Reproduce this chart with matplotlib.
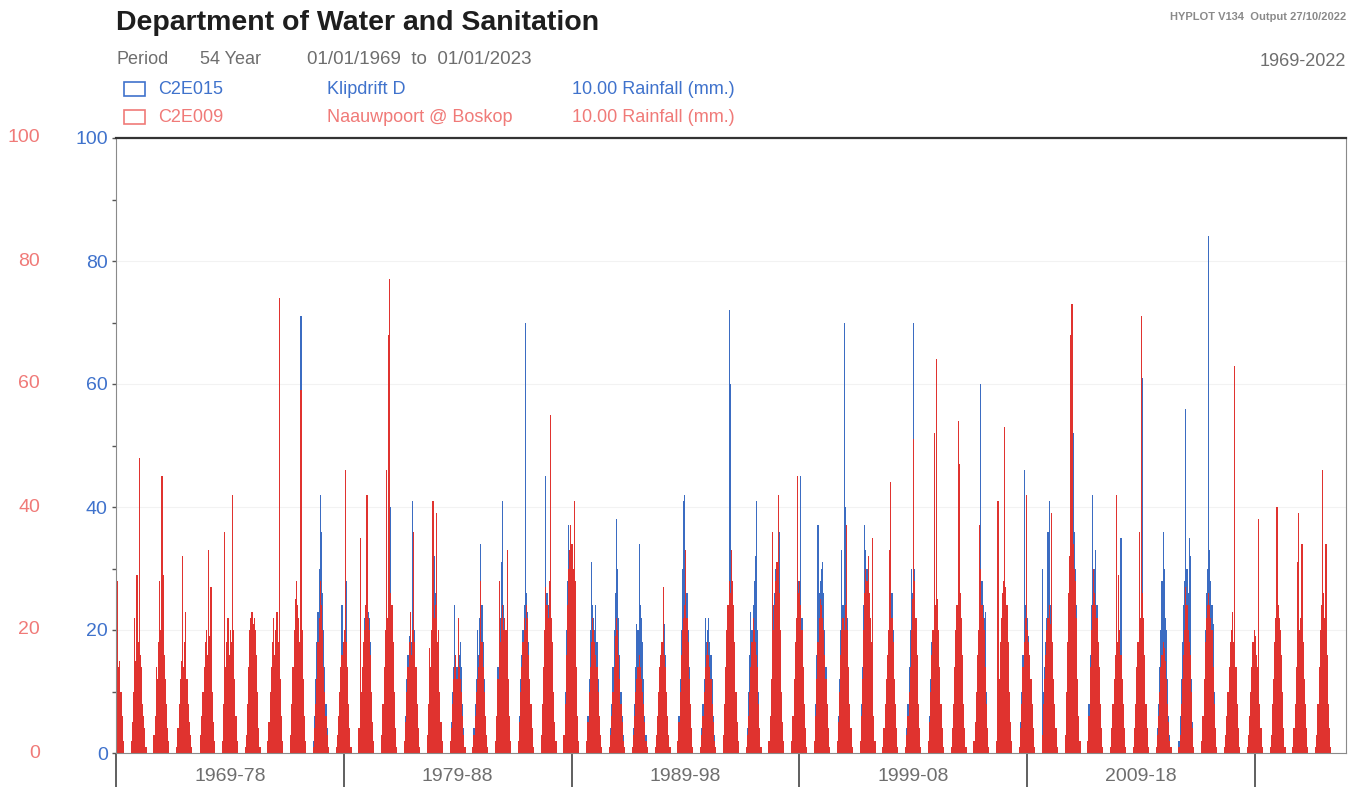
import numpy as np
import matplotlib
matplotlib.use("Agg")
import matplotlib.pyplot as plt
import matplotlib.patches
import matplotlib.transforms as mtransforms

plt.rcParams['font.family'] = ['Liberation Sans', 'DejaVu Sans']

# daily rainfall, one list per rain season (Sep..Apr),
# roughly half-monthly peaks, first list is the 1968/69 season
first_season = 1968
slot_offset = 0.67   # early September
slot_step = 0.05     # about half a month

red_c2e009 = [
    [0, 0, 0, 0, 0, 0, 0, 12, 28, 14, 15, 10, 6, 2],
    [2, 5, 10, 22, 15, 29, 18, 48, 16, 14, 8, 6, 4, 1],
    [3, 6, 14, 12, 18, 28, 20, 45, 29, 16, 12, 8, 4, 2],
    [1, 4, 8, 12, 15, 32, 14, 18, 23, 12, 8, 5, 3, 1],
    [0, 3, 6, 10, 14, 18, 20, 16, 33, 19, 27, 10, 5, 2],
    [2, 8, 36, 14, 18, 22, 16, 20, 18, 42, 20, 12, 6, 2],
    [1, 3, 8, 14, 20, 22, 23, 21, 22, 20, 16, 10, 4, 1],
    [2, 5, 10, 14, 18, 22, 16, 20, 23, 18, 74, 12, 6, 2],
    [3, 8, 14, 20, 25, 28, 24, 22, 18, 59, 20, 12, 6, 2],
    [1, 4, 8, 12, 18, 22, 28, 24, 20, 14, 10, 6, 3, 1],
    [1, 3, 6, 10, 14, 16, 18, 20, 46, 18, 14, 8, 4, 1],
    [4, 35, 10, 14, 18, 20, 24, 42, 22, 20, 16, 10, 5, 2],
    [3, 8, 14, 20, 46, 22, 68, 77, 26, 24, 18, 10, 4, 1],
    [2, 5, 10, 14, 18, 23, 16, 20, 36, 18, 14, 8, 4, 1],
    [3, 8, 17, 14, 20, 41, 22, 24, 39, 18, 20, 10, 5, 2],
    [2, 4, 8, 12, 14, 16, 12, 22, 14, 12, 10, 6, 3, 1],
    [1, 3, 6, 10, 12, 14, 16, 28, 18, 14, 10, 6, 3, 1],
    [2, 6, 12, 28, 18, 22, 24, 20, 22, 20, 33, 12, 6, 2],
    [2, 5, 10, 14, 18, 22, 20, 24, 22, 16, 12, 8, 4, 1],
    [3, 8, 14, 20, 27, 24, 22, 28, 55, 22, 18, 10, 5, 2],
    [3, 8, 16, 24, 30, 33, 37, 34, 30, 41, 28, 14, 6, 2],
    [2, 5, 10, 14, 18, 22, 20, 18, 16, 14, 10, 6, 3, 1],
    [1, 3, 6, 10, 14, 19, 22, 20, 16, 12, 8, 5, 2, 1],
    [1, 3, 6, 10, 12, 14, 16, 14, 12, 10, 8, 5, 2, 1],
    [1, 3, 6, 10, 14, 16, 18, 27, 16, 14, 10, 6, 3, 1],
    [2, 5, 10, 16, 20, 22, 24, 33, 22, 18, 12, 8, 4, 1],
    [1, 3, 6, 10, 14, 16, 18, 16, 14, 12, 8, 5, 2, 1],
    [3, 8, 14, 20, 24, 28, 26, 33, 28, 24, 18, 10, 5, 2],
    [1, 3, 6, 10, 14, 18, 22, 20, 18, 16, 14, 8, 4, 1],
    [2, 6, 12, 36, 20, 24, 28, 31, 42, 26, 20, 10, 5, 2],
    [2, 6, 12, 18, 22, 45, 26, 28, 24, 20, 14, 8, 4, 1],
    [2, 6, 12, 18, 22, 25, 24, 22, 20, 16, 12, 8, 4, 1],
    [2, 5, 10, 16, 20, 22, 20, 24, 37, 20, 14, 8, 4, 1],
    [2, 6, 12, 20, 26, 30, 28, 32, 26, 22, 18, 35, 6, 2],
    [1, 4, 8, 12, 16, 20, 33, 44, 22, 18, 12, 8, 4, 1],
    [1, 3, 6, 10, 14, 20, 25, 51, 28, 22, 16, 8, 4, 1],
    [2, 5, 10, 16, 20, 52, 24, 64, 25, 20, 14, 8, 4, 1],
    [1, 4, 8, 14, 20, 24, 54, 47, 26, 22, 16, 8, 4, 1],
    [2, 5, 10, 16, 20, 37, 30, 24, 22, 20, 14, 8, 4, 1],
    [2, 41, 12, 18, 22, 26, 28, 53, 27, 24, 18, 10, 5, 2],
    [1, 4, 8, 14, 18, 22, 42, 20, 18, 16, 12, 8, 4, 1],
    [3, 8, 12, 16, 20, 22, 24, 21, 39, 18, 12, 8, 4, 1],
    [3, 10, 18, 26, 32, 68, 73, 34, 30, 28, 22, 12, 6, 2],
    [2, 6, 14, 20, 24, 30, 26, 24, 22, 18, 14, 8, 4, 1],
    [1, 4, 8, 12, 16, 42, 18, 29, 20, 16, 12, 8, 4, 1],
    [1, 4, 8, 14, 18, 36, 22, 71, 26, 22, 16, 8, 4, 1],
    [1, 3, 6, 10, 14, 16, 18, 17, 15, 12, 8, 5, 2, 1],
    [1, 3, 8, 12, 16, 20, 27, 24, 20, 18, 16, 10, 4, 1],
    [2, 6, 12, 18, 22, 24, 26, 24, 22, 20, 14, 8, 4, 1],
    [1, 3, 6, 10, 14, 18, 20, 23, 18, 63, 14, 8, 4, 1],
    [1, 3, 6, 10, 14, 18, 20, 19, 16, 14, 38, 8, 4, 1],
    [1, 3, 8, 12, 18, 22, 40, 24, 22, 20, 16, 10, 4, 1],
    [1, 4, 8, 14, 31, 39, 20, 22, 34, 18, 12, 8, 4, 1],
    [1, 3, 8, 14, 20, 24, 46, 26, 22, 34, 16, 8, 4, 1],
]

# C2E015 record stops after the 2016/17 season
blue_c2e015 = [
    [0, 0, 0, 0, 0, 0, 0, 10, 12, 9, 8, 6, 3, 1],
    [1, 4, 8, 12, 10, 15, 12, 18, 10, 8, 6, 4, 2, 0],
    [2, 4, 8, 10, 12, 14, 12, 16, 14, 10, 6, 4, 2, 1],
    [1, 3, 6, 9, 10, 14, 12, 12, 14, 8, 5, 3, 2, 0],
    [0, 2, 5, 8, 10, 12, 14, 12, 15, 12, 14, 8, 3, 1],
    [1, 5, 14, 10, 12, 14, 12, 14, 12, 18, 14, 8, 4, 1],
    [1, 2, 6, 10, 14, 16, 15, 16, 14, 14, 10, 6, 3, 1],
    [1, 3, 8, 10, 12, 14, 12, 14, 16, 12, 20, 8, 4, 1],
    [2, 6, 12, 16, 20, 26, 22, 20, 16, 71, 18, 10, 5, 1],
    [2, 6, 12, 18, 23, 30, 42, 36, 26, 20, 14, 8, 4, 1],
    [1, 3, 6, 10, 14, 24, 18, 16, 20, 28, 12, 6, 3, 1],
    [3, 12, 8, 12, 16, 22, 24, 26, 23, 22, 18, 10, 5, 1],
    [2, 6, 12, 16, 22, 20, 28, 30, 40, 22, 14, 8, 4, 1],
    [2, 6, 12, 16, 19, 22, 18, 41, 24, 20, 12, 8, 3, 1],
    [2, 6, 12, 14, 18, 22, 32, 26, 20, 16, 12, 8, 4, 1],
    [2, 5, 10, 14, 24, 16, 14, 20, 16, 18, 14, 8, 4, 1],
    [1, 4, 8, 12, 20, 16, 22, 34, 24, 18, 12, 6, 3, 1],
    [2, 6, 14, 20, 22, 31, 41, 24, 22, 20, 18, 10, 5, 1],
    [2, 6, 12, 16, 20, 24, 70, 26, 23, 18, 12, 8, 4, 1],
    [2, 6, 12, 18, 45, 26, 24, 20, 24, 20, 14, 8, 4, 1],
    [3, 10, 20, 28, 37, 32, 30, 28, 26, 24, 20, 12, 5, 1],
    [2, 6, 12, 20, 31, 24, 22, 20, 24, 18, 12, 6, 3, 1],
    [1, 4, 8, 14, 20, 26, 38, 30, 22, 16, 10, 6, 3, 1],
    [1, 4, 8, 14, 21, 20, 34, 24, 22, 18, 12, 6, 3, 1],
    [1, 3, 6, 10, 14, 16, 18, 20, 21, 16, 10, 6, 3, 1],
    [2, 6, 12, 20, 30, 41, 42, 30, 26, 20, 14, 8, 4, 1],
    [1, 4, 8, 12, 22, 18, 20, 22, 18, 16, 12, 6, 3, 1],
    [2, 6, 12, 18, 24, 72, 60, 30, 26, 22, 16, 8, 4, 1],
    [1, 4, 10, 16, 23, 20, 24, 28, 32, 41, 20, 10, 4, 1],
    [2, 6, 12, 20, 24, 26, 30, 28, 32, 36, 18, 10, 4, 1],
    [1, 4, 10, 16, 20, 26, 28, 24, 45, 22, 14, 8, 4, 1],
    [2, 8, 16, 37, 26, 28, 30, 31, 26, 20, 14, 8, 4, 1],
    [2, 6, 12, 20, 33, 24, 70, 40, 30, 22, 14, 8, 4, 1],
    [2, 8, 14, 24, 37, 33, 30, 28, 24, 20, 14, 10, 4, 1],
    [1, 3, 6, 10, 14, 18, 24, 22, 26, 20, 12, 6, 3, 1],
    [1, 4, 8, 14, 20, 30, 26, 70, 30, 22, 14, 8, 4, 1],
    [2, 6, 12, 18, 20, 22, 20, 24, 22, 18, 12, 8, 4, 1],
    [1, 3, 6, 12, 16, 20, 24, 22, 20, 18, 14, 6, 3, 1],
    [1, 4, 8, 14, 20, 24, 60, 28, 24, 22, 23, 10, 4, 1],
    [1, 6, 10, 14, 18, 20, 22, 24, 22, 20, 14, 8, 4, 1],
    [1, 5, 10, 16, 46, 24, 20, 22, 19, 16, 12, 8, 4, 1],
    [30, 10, 14, 18, 22, 36, 41, 24, 20, 16, 12, 8, 4, 1],
    [2, 8, 16, 24, 30, 34, 32, 52, 36, 30, 24, 12, 5, 2],
    [2, 8, 16, 24, 42, 28, 30, 33, 24, 18, 12, 6, 3, 1],
    [1, 4, 8, 12, 16, 20, 18, 22, 20, 35, 12, 6, 3, 1],
    [1, 3, 8, 12, 16, 20, 18, 22, 61, 20, 14, 8, 4, 1],
    [1, 4, 8, 14, 20, 28, 36, 30, 22, 20, 12, 6, 3, 1],
    [2, 6, 12, 18, 24, 28, 56, 30, 26, 35, 32, 12, 5, 1],
    [2, 6, 12, 20, 26, 30, 84, 33, 28, 24, 21, 10, 4, 1],
]

decade_ticks = [1969, 1979, 1989, 1999, 2009, 2019]
decade_labels = ["1969-78", "1979-88", "1989-98", "1999-08", "2009-18"]
y_ticks = [0, 20, 40, 60, 80, 100]

RED = "#e0332f"
BLUE = "#3b6cc2"
RED_TXT = "#f07a78"
BLUE_TXT = "#3f72cc"
GREY = "#6e6e6e"

W, H = 1357, 787
fig = plt.figure(figsize=(W / 100, H / 100), dpi=100)
ax = fig.add_axes([116 / W, 1 - 753 / H, (1346 - 116) / W, (753 - 138) / H])


def season_bars(ax, seasons, color):
    for k, vals in enumerate(seasons):
        yr = first_season + k
        xs = yr + slot_offset + slot_step * np.arange(len(vals))
        ax.bar(xs, vals, width=slot_step, color=color, linewidth=0)


season_bars(ax, blue_c2e015, BLUE)
season_bars(ax, red_c2e009, RED)

ax.set_xlim(1969, 2023)
ax.set_ylim(0, 100)

# axes frame
for s in ["left", "right", "bottom"]:
    ax.spines[s].set_color("#8a8a8a")
ax.spines["top"].set_color("#333333")
ax.spines["top"].set_linewidth(1.6)
ax.grid(axis="y", color="#f2f2f2", linewidth=0.8)
ax.set_axisbelow(True)

ax.set_yticks(y_ticks)
ax.set_yticks(range(10, 100, 20), minor=True)
ax.set_yticklabels([str(v) for v in y_ticks], color=BLUE_TXT, fontsize=14)
ax.tick_params(axis="y", which="both", length=3, width=1, color="#555555", pad=3)

ax.set_xticks(decade_ticks)
ax.set_xticklabels([])
ax.tick_params(axis="x", which="major", length=30, width=1.2, color="#444444")
ax.set_xticks([t + 5 for t in decade_ticks[:-1]], minor=True)
ax.set_xticklabels(decade_labels, minor=True, color=GREY, fontsize=14)
ax.tick_params(axis="x", which="minor", length=0, pad=11)

# second (red) scale on the far left
trans = mtransforms.blended_transform_factory(fig.transFigure, ax.transData)
for v in y_ticks:
    ax.text(40 / W, v, str(v), transform=trans, ha="right", va="center",
            color=RED_TXT, fontsize=14, clip_on=False)

# header
def fx(px):
    return px / W


def fy(py):
    return 1 - py / H


fig.text(fx(116), fy(23), "Department of Water and Sanitation", fontsize=20.5,
         fontweight="bold", color="#1e1e1e", va="center")
fig.text(fx(1346), fy(17), "HYPLOT V134  Output 27/10/2022", fontsize=8,
         fontweight="bold", color="#8a8a8a", ha="right", va="center")
fig.text(fx(117), fy(60), "Period", fontsize=13, color=GREY, va="center")
fig.text(fx(200), fy(60), "54 Year", fontsize=13, color=GREY, va="center")
fig.text(fx(307), fy(60), "01/01/1969  to  01/01/2023", fontsize=13.5, color=GREY, va="center")
fig.text(fx(1346), fy(61), "1969-2022", fontsize=13, color=GREY, ha="right", va="center")

legend_rows = [
    (89, BLUE_TXT, "C2E015", "Klipdrift D", "10.00 Rainfall (mm.)"),
    (117, RED_TXT, "C2E009", "Naauwpoort @ Boskop", "10.00 Rainfall (mm.)"),
]
for py, col, code, name, unit in legend_rows:
    box = matplotlib.patches.Rectangle((fx(124), fy(py + 7)), 21 / W, 14 / H,
                                       transform=fig.transFigure, fill=False,
                                       edgecolor=col, linewidth=1.2)
    fig.add_artist(box)
    fig.text(fx(158), fy(py), code, fontsize=13, color=col, va="center")
    fig.text(fx(327), fy(py), name, fontsize=13, color=col, va="center")
    fig.text(fx(572), fy(py), unit, fontsize=13, color=col, va="center")

fig.savefig("out.png", dpi=100)
